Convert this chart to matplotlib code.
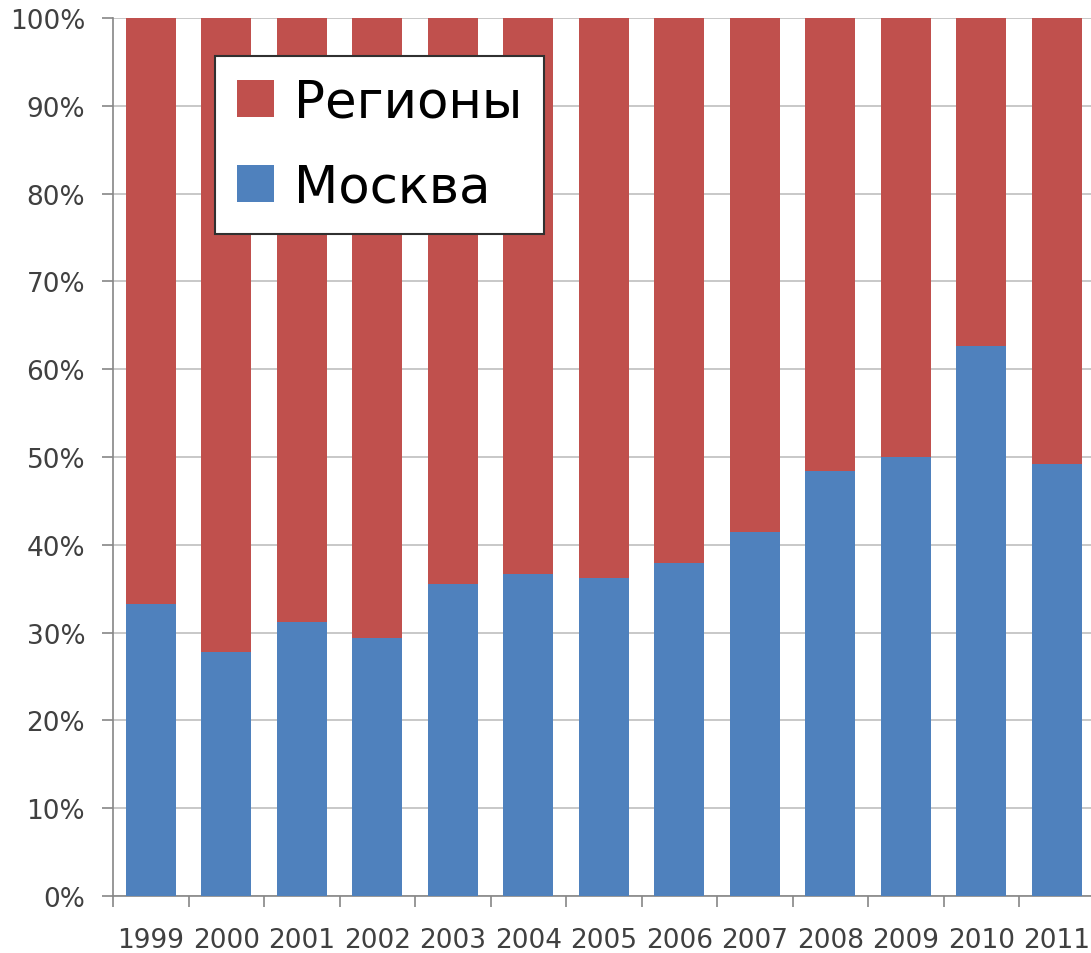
import numpy as np
import matplotlib.pyplot as plt
from matplotlib.patches import Patch
from matplotlib.ticker import FuncFormatter

years = ["1999", "2000", "2001", "2002", "2003", "2004", "2005",
         "2006", "2007", "2008", "2009", "2010", "2011"]
moscow = [33.3, 27.8, 31.2, 29.4, 35.5, 36.7, 36.2, 37.9, 41.5, 48.4, 50.0, 62.6, 49.2]
regions = [100 - m for m in moscow]

BLUE = "#4F81BD"
RED = "#C0504D"
AXIS = "#868686"
GRID = "#BFBFBF"
TXT = "#404040"

W, H, DPI = 1091, 954, 100
fig = plt.figure(figsize=(W / DPI, H / DPI), dpi=DPI)
x0, x1 = 113, 1094.5
y0, y1 = 897, 19
ax = fig.add_axes([x0 / W, 1 - y0 / H, (x1 - x0) / W, (y0 - y1) / H])

x = np.arange(len(years))
ax.bar(x, moscow, width=0.66, color=BLUE, zorder=3, label="Москва")
ax.bar(x, regions, bottom=moscow, width=0.66, color=RED, zorder=3, label="Регионы")

ax.set_xlim(-0.5, len(years) - 0.5)
ax.set_ylim(0, 100)
ax.set_yticks(np.arange(0, 101, 10))
ax.yaxis.set_major_formatter(FuncFormatter(lambda v, p: f"{v:.0f}%"))
ax.grid(axis="y", color=GRID, lw=1.2, zorder=0)
ax.set_axisbelow(True)

ax.set_xticks(x)
ax.set_xticklabels(years)
ax.set_xticks(np.arange(-0.5, len(years), 1), minor=True)
ax.tick_params(axis="x", which="major", length=0, pad=22, labelsize=19, labelcolor=TXT)
ax.tick_params(axis="x", which="minor", length=8, width=1.2, color=AXIS)
ax.tick_params(axis="y", length=8, width=1.2, color=AXIS, pad=12, labelsize=19, labelcolor=TXT)

for s in ["top", "right"]:
    ax.spines[s].set_visible(False)
for s in ["left", "bottom"]:
    ax.spines[s].set_color(AXIS)
    ax.spines[s].set_linewidth(1.2)

handles = [Patch(facecolor=RED, label="Регионы"), Patch(facecolor=BLUE, label="Москва")]
leg = fig.legend(handles=handles, loc="upper left",
                 bbox_to_anchor=(215 / W, 1 - 57 / H), bbox_transform=fig.transFigure,
                 fontsize=37, frameon=True, fancybox=False, framealpha=1, borderaxespad=0,
                 handlelength=0.72, handleheight=0.72, handletextpad=0.4,
                 labelspacing=0.68, borderpad=0.42)
leg.get_frame().set_edgecolor("#303030")
leg.get_frame().set_linewidth(1.5)

fig.savefig("out.png", dpi=DPI)
